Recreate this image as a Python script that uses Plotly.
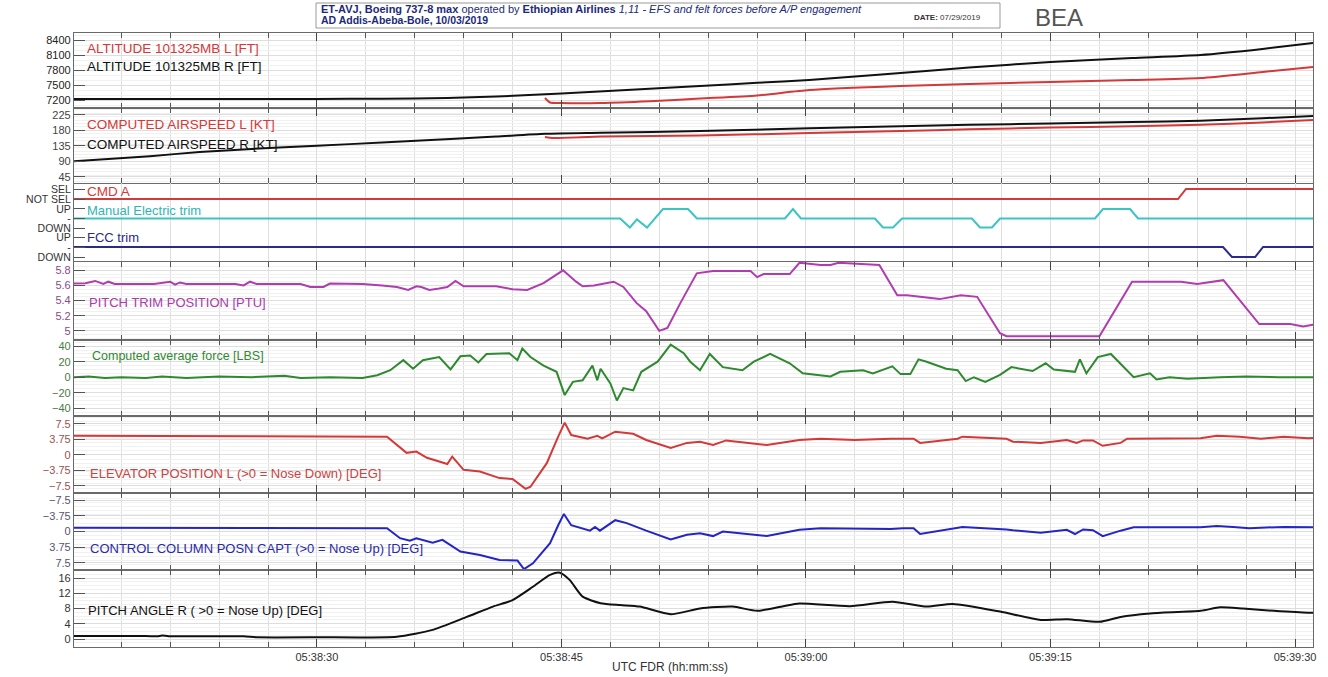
import pandas as pd
import plotly.graph_objects as go
from plotly.subplots import make_subplots

BASE = pd.Timestamp("2019-03-10 05:38:00")

# ---------------- data (seconds after 05:38:00, values) ----------------
alt_r_t = [15.1, 20, 25, 30, 34, 38, 41, 45, 49, 53.5, 57, 60.2, 63, 65.8, 70, 75, 80, 84.2, 88, 91.1]
alt_r_v = [7220, 7220, 7220, 7222, 7225, 7240, 7270, 7330, 7400, 7480, 7545, 7600, 7670, 7740, 7850, 7960, 8040, 8100, 8220, 8340]
alt_l_t = [43.99, 44.3, 45, 47.4, 50.4, 53.5, 57, 60.2, 65.8, 70, 75, 80, 84.2, 88, 91.1]
alt_l_v = [7240, 7150, 7140, 7140, 7175, 7230, 7290, 7400, 7480, 7520, 7560, 7600, 7640, 7760, 7860]

ias_r_t = [15.1, 19.75, 22.8, 26, 30, 34, 38.2, 41, 44, 47.4, 53.5, 60.2, 65.8, 70, 75, 80, 84.2, 88, 91.1]
ias_r_v = [90, 105, 117, 126, 135, 145, 155, 162, 170, 173, 178, 186, 192, 196, 200, 204, 208, 215, 222]
ias_l_t = [43.99, 44.5, 47.4, 53.5, 60.2, 65.8, 70, 75, 80, 84.2, 88, 91.1]
ias_l_v = [161, 158, 162, 165, 172, 178, 183, 188, 192, 196, 203, 210]

cmd_t = [15.1, 82.82, 83.31, 91.1]
cmd_v = [0, 0, 1, 1]

met_t = [15.1, 48.6, 49.2, 49.63, 50.25, 51.23, 52.76, 53.31, 58.71, 59.2, 59.69,
         64.23, 64.72, 65.34, 65.89, 70.18, 70.67, 71.41, 71.9, 77.73, 78.22, 79.88, 80.37, 91.1]
met_v = [0, 0, -0.95, -0.1, -0.95, 1, 1, 0, 0, 1, 0,
         0, -0.95, -0.95, 0, 0, -0.95, -0.95, 0, 0, 1, 1, 0, 0]

fcc_t = [15.1, 85.58, 86.13, 87.55, 88.04, 91.1]
fcc_v = [0, 0, -1, -1, 0, 0]

trim_t = [15.1, 15.8, 16.4, 16.9, 17.2, 17.6, 20.0, 21.0, 21.3, 21.6, 22.0, 25.0, 25.5, 25.9, 26.3,
          29.0, 29.6, 30.4, 30.8, 32.8, 34.0, 34.9, 35.6, 36.1, 36.4, 36.9, 37.5, 38.0, 38.5, 39.0,
          41.0, 42.0, 42.9, 43.9, 45.1, 45.9, 46.3, 47.0, 48.2, 48.8, 49.6, 50.2, 51.0, 51.5, 52.3,
          53.3, 54.3, 56.6, 57.0, 57.4, 59.0, 59.6, 60.9, 61.5, 62.0, 64.5, 65.6, 66.2, 67.0, 68.2,
          69.5, 70.5, 71.9, 72.3, 75.0, 78.0, 80.0, 83.0, 84.0, 85.6, 87.8, 89.7, 90.5, 91.1]
trim_v = [5.625, 5.63, 5.66, 5.62, 5.65, 5.62, 5.62, 5.65, 5.61, 5.64, 5.62, 5.62, 5.60, 5.65, 5.62,
          5.62, 5.58, 5.58, 5.625, 5.62, 5.60, 5.58, 5.54, 5.59, 5.58, 5.54, 5.56, 5.58, 5.66, 5.59,
          5.59, 5.55, 5.54, 5.63, 5.80, 5.65, 5.59, 5.60, 5.65, 5.58, 5.37, 5.26, 5.00, 5.04, 5.37,
          5.76, 5.79, 5.79, 5.71, 5.75, 5.75, 5.90, 5.87, 5.87, 5.90, 5.87, 5.47, 5.47, 5.45, 5.42,
          5.47, 5.45, 4.97, 4.93, 4.93, 4.93, 5.65, 5.65, 5.62, 5.67, 5.09, 5.09, 5.06, 5.08]

force_t = [15.1, 16, 17, 18, 19.5, 20.5, 22, 24, 26, 28, 29, 30.8, 32.8, 33.7, 34.5, 35.3, 35.9, 36.5,
           37.5, 38.2, 38.8, 39.4, 39.9, 40.4, 41.8, 42.3, 42.6, 43.1, 43.9, 44.7, 45.2, 45.7, 46.3,
           46.9, 47.2, 47.4, 48.0, 48.4, 48.8, 49.4, 49.9, 50.9, 51.7, 52.5, 52.9, 53.5, 54.1, 54.9,
           56.1, 56.8, 57.8, 59.0, 59.8, 61.5, 62.1, 63.5, 64.1, 65.3, 65.8, 66.4, 66.9, 67.4, 68.6,
           69.3, 69.8, 70.3, 71.0, 71.9, 72.6, 73.9, 74.7, 75.2, 76.5, 76.8, 77.2, 77.9, 78.7, 79.4,
           80.1, 81.1, 81.5, 82.3, 83.4, 85.4, 87, 89, 91.1]
force_v = [0, 1, -1, 0, -1, 1, -1, 1, 0, 2, -1, 0, -1, 2.6, 9, 22, 11, 22,
           26, 10, 27, 28, 19, 30, 31, 22, 37, 26, 15, 7, -23, -6, -4,
           15, -4, 11, -8, -30, -14, -17, 7, 20, 42, 31, 20, 9, 30, 13,
           9, 20, 30, 18, 5, 1, 7, 9, 5, 14, 4, 4, 23, 20, 11,
           9, -5, 0, -6, 3, 13, 8, 18, 10, 7, 23, 5, 26, 30, 15,
           0, 5, -3, 0, -2, 0, 1, 0, 0]

elev_t = [15.1, 20, 25, 30, 34.3, 35.5, 36.1, 36.75, 38.0, 38.3, 39.0, 40.0, 41.2, 42.0, 42.8, 43.1,
          44.1, 44.8, 45.2, 45.6, 46.6, 47.2, 47.5, 48.3, 49.4, 50.2, 51.7, 52.7, 53.5, 54.3, 55.1,
          57.6, 59.6, 60.9, 63.0, 65.2, 66.6, 67.0, 69.3, 69.6, 72.3, 72.7, 74.4, 76.0, 76.6, 77.0,
          77.6, 78.2, 79.3, 79.7, 84.2, 85.2, 86.6, 87.9, 89.3, 90.8, 91.1]
elev_v = [4.6, 4.55, 4.6, 4.5, 4.4, 0.5, 0.8, -0.7, -2.2, -0.4, -3.6, -4.0, -5.6, -5.8, -8.2, -7.7,
          -2.0, 4.4, 7.8, 4.8, 3.9, 4.6, 4.0, 5.6, 5.1, 3.6, 1.7, 2.9, 3.2, 2.4, 3.5,
          2.4, 3.6, 3.9, 3.6, 3.9, 3.9, 2.9, 3.9, 4.4, 3.9, 3.2, 2.9, 3.6, 2.9, 3.5,
          3.5, 2.2, 2.9, 3.9, 4.0, 4.6, 4.4, 3.9, 4.4, 4.0, 4.1]

col_t = [15.1, 20, 25, 30, 34.3, 35.1, 35.7, 36.1, 37.1, 37.7, 38.8, 40.0, 41.2, 42.3, 42.7, 43.25,
         44.3, 44.8, 45.15, 45.6, 46.75, 47.06, 47.36, 48.3, 49.0, 50.2, 51.7, 52.7, 53.5, 54.3, 54.9,
         57.6, 59.6, 60.9, 65.2, 65.95, 66.6, 67.0, 69.3, 69.6, 72.3, 72.7, 74.4, 76.0, 76.5, 77.0,
         77.6, 78.2, 79.3, 80.1, 84.2, 85.2, 86.2, 87.2, 89.3, 90.8, 91.1]
col_v = [-0.9, -0.9, -0.95, -0.9, -0.8, 1.6, 2.2, 1.6, 2.7, 2.0, 4.8, 5.6, 6.8, 6.9, 9.0, 7.6,
         2.8, -1.5, -4.2, -1.5, -0.2, -1.1, -0.2, -2.7, -2.0, -0.2, 1.9, 0.8, 0.4, 1.1, 0.0,
         1.1, -0.4, -0.8, -0.6, -0.8, -0.8, 0.6, -1.0, -1.1, -0.5, -0.3, 0.3, -0.4, 0.6, -0.5,
         -0.3, 1.1, -0.2, -1.0, -1.0, -1.3, -1.1, -0.8, -1.1, -1.1, -1.0]

pitch_t = [15.1, 19.5, 20.2, 20.5, 20.9, 25.5, 26.3, 30, 34.9, 37.1, 39.2, 40.8, 42.0, 43.25, 44.3,
           44.9, 45.5, 46.3, 47.4, 48.6, 49.8, 51.7, 53.5, 55.5, 57.0, 58.6, 59.6, 62.7, 65.3, 67.4,
           69.0, 71.9, 74.4, 76.0, 78.0, 79.3, 81.1, 84.2, 85.4, 86.8, 88.7, 90.8, 91.1]
pitch_v = [0.8, 0.8, 0.7, 0.9, 0.75, 0.7, 0.45, 0.45, 0.6, 2.4, 5.8, 8.5, 10.2, 13.7, 16.8,
           17.4, 15.5, 11.1, 9.4, 8.9, 8.5, 6.5, 8.0, 8.5, 7.4, 8.6, 9.3, 8.6, 9.8, 8.5,
           9.2, 7.2, 5.0, 5.2, 4.5, 5.8, 6.7, 7.4, 8.3, 8.0, 7.4, 6.9, 6.9]

panel_labels = [
    "ALTITUDE 101325MB L [FT]", "ALTITUDE 101325MB R [FT]",
    "COMPUTED AIRSPEED L [KT]", "COMPUTED AIRSPEED R [KT]",
    "CMD A", "Manual Electric trim", "FCC trim",
    "PITCH TRIM POSITION [PTU]", "Computed average force [LBS]",
    "ELEVATOR POSITION L (>0 = Nose Down) [DEG]",
    "CONTROL COLUMN POSN CAPT (>0 = Nose Up) [DEG]",
    "PITCH ANGLE R ( >0 = Nose Up) [DEG]",
]

# ---------------- styling ----------------
RED = "#d43838"
BLACK = "#111111"
TEAL = "#3cc4c4"
NAVY = "#2a2a8a"
MAGENTA = "#b03cb0"
GREEN = "#2e8a2e"
BLUE = "#2424c8"
FONT = "Liberation Sans, Arial, sans-serif"

heights = [75, 75, 20, 29, 30, 78, 76, 77, 77, 77]
fig = make_subplots(rows=10, cols=1, shared_xaxes=True, vertical_spacing=0,
                    row_heights=heights)


def T(sec):
    return [BASE + pd.Timedelta(seconds=s) for s in sec]


def add(t, v, row, color, width=2.0, shape="linear"):
    fig.add_trace(go.Scatter(x=T(t), y=v, mode="lines",
                             line=dict(color=color, width=width, shape=shape, smoothing=0.6),
                             showlegend=False, hoverinfo="skip"), row=row, col=1)


add(alt_r_t, alt_r_v, 1, BLACK, shape="spline")
add(alt_l_t, alt_l_v, 1, RED, shape="spline")
add(ias_r_t, ias_r_v, 2, BLACK, shape="spline")
add(ias_l_t, ias_l_v, 2, RED, shape="spline")
add(cmd_t, cmd_v, 3, RED)
add(met_t, met_v, 4, TEAL)
add(fcc_t, fcc_v, 5, NAVY)
add(trim_t, trim_v, 6, MAGENTA)
add(force_t, force_v, 7, GREEN)
add(elev_t, elev_v, 8, RED)
add(col_t, col_v, 9, BLUE)
add(pitch_t, pitch_v, 10, BLACK, shape="spline")

xr = [BASE + pd.Timedelta(seconds=15.1), BASE + pd.Timedelta(seconds=91.1)]
GRID = "#dedede"
MINORGRID = "#f1f1f1"
AXLINE = "#6a6a6a"

for r in range(1, 11):
    framed = r not in (3, 4, 5)
    fig.update_xaxes(
        row=r, col=1, type="date", range=xr, tickformat="%H:%M:%S",
        tick0=BASE, dtick=15000,
        ticks="inside" if framed else "", ticklen=8, tickcolor="#444", tickwidth=1,
        showgrid=True, gridcolor=GRID, gridwidth=1,
        minor=dict(dtick=3000, ticks="inside" if framed else "", ticklen=5,
                   tickcolor="#555", showgrid=True, gridcolor=GRID),
        showline=framed, linecolor=AXLINE, linewidth=1.2,
        mirror="ticks" if framed else False,
        showticklabels=(r == 10),
        tickfont=dict(family=FONT, size=11, color="#333"),
        zeroline=False,
    )

yspec = {
    1: dict(range=[7040, 8540], tickvals=[7200, 7500, 7800, 8100, 8400], color="#222"),
    2: dict(range=[27, 245], tickvals=[45, 90, 135, 180, 225], color="#444"),
    3: dict(range=[-0.4, 1.6], tickvals=[0, 1], ticktext=["NOT SEL", "SEL"], color="#333"),
    4: dict(range=[-1.42, 1.63], tickvals=[-1, 0, 1], ticktext=["DOWN", "-", "UP"], color="#333"),
    5: dict(range=[-1.5, 1.5], tickvals=[-1, 0, 1], ticktext=["DOWN", "-", "UP"], color="#333"),
    6: dict(range=[4.88, 5.91], tickvals=[5, 5.2, 5.4, 5.6, 5.8], color="#8a4a8a"),
    7: dict(range=[-50, 48], tickvals=[-40, -20, 0, 20, 40], color="#4a7a4a"),
    8: dict(range=[-9.2, 9.4], tickvals=[-7.5, -3.75, 0, 3.75, 7.5], color="#a05050"),
    9: dict(range=[9.2, -9.2], tickvals=[-7.5, -3.75, 0, 3.75, 7.5], color="#555570"),
    10: dict(range=[-2.1, 18.1], tickvals=[0, 4, 8, 12, 16], color="#333"),
}
for r, s in yspec.items():
    kw = dict(range=s["range"], tickmode="array", tickvals=s["tickvals"])
    if "ticktext" in s:
        kw["ticktext"] = s["ticktext"]
    small = r in (3, 4, 5)
    fig.update_yaxes(
        row=r, col=1, **kw,
        ticks="inside", ticklen=11, tickcolor="#555", tickwidth=1,
        showgrid=not small, gridcolor=GRID,
        minor=dict(showgrid=not small, gridcolor=MINORGRID, ticks=""),
        showline=True, linecolor=AXLINE, linewidth=1.2, mirror=True,
        zeroline=False,
        tickfont=dict(family=FONT, size=10.5 if small else 11, color=s["color"]),
    )

# ---------------- panel labels ----------------
L, R_, TOP, BOT = 74, 1313, 33, 647


def px(xp):
    return (xp - L) / (R_ - L)


def py(yp):
    return (BOT - yp) / (BOT - TOP)


label_pos = [
    (85, 48, RED, 13.5), (85, 66, BLACK, 13.5),
    (85, 125, RED, 13.5), (85, 144, BLACK, 13.5),
    (85, 191, RED, 13.5), (85, 210, "#30b4b4", 13), (85, 237, NAVY, 13),
    (87, 302, "#a83ca8", 13), (90, 356, "#2e8a2e", 12.5),
    (88, 473, "#d04040", 13), (88, 548, "#2a2aa8", 13), (86, 610, BLACK, 13),
]
for text, (xp, yp, c, fs) in zip(panel_labels, label_pos):
    fig.add_annotation(x=px(xp), y=py(yp), xref="paper", yref="paper", text=text,
                       showarrow=False, xanchor="left", yanchor="middle",
                       font=dict(family=FONT, size=fs, color=c))

# x axis title
fig.add_annotation(x=px(670), y=py(667), xref="paper", yref="paper",
                   text="UTC FDR (hh:mm:ss)", showarrow=False,
                   xanchor="center", yanchor="middle",
                   font=dict(family=FONT, size=12, color="#333"))

# header box
fig.add_shape(type="rect", xref="paper", yref="paper",
              x0=px(316), x1=px(1000), y0=py(28), y1=py(3),
              line=dict(color="#999", width=1), fillcolor="white")
HNAVY = "#1c2a7a"
fig.add_annotation(x=px(319), y=py(9), xref="paper", yref="paper", showarrow=False,
                   xanchor="left", yanchor="middle",
                   text="<b>ET-AVJ, Boeing 737-8 max</b> operated by <b>Ethiopian Airlines</b>"
                        "<i> 1,11 - EFS and felt forces before A/P engagement</i>",
                   font=dict(family=FONT, size=11, color=HNAVY))
fig.add_annotation(x=px(319), y=py(20), xref="paper", yref="paper", showarrow=False,
                   xanchor="left", yanchor="middle",
                   text="<b>AD Addis-Abeba-Bole, 10/03/2019</b>",
                   font=dict(family=FONT, size=10.5, color=HNAVY))
fig.add_annotation(x=px(912), y=py(18), xref="paper", yref="paper", showarrow=False,
                   xanchor="left", yanchor="middle",
                   text="<b>DATE:</b> 07/29/2019",
                   font=dict(family=FONT, size=8, color="#333"))
fig.add_annotation(x=px(1033), y=py(18), xref="paper", yref="paper", showarrow=False,
                   xanchor="left", yanchor="middle", text="BEA",
                   font=dict(family=FONT, size=24, color="#555"))

fig.update_layout(
    width=1328, height=677, autosize=False,
    margin=dict(l=L, r=1328 - R_, t=TOP, b=677 - BOT, pad=0),
    plot_bgcolor="white", paper_bgcolor="white",
    font=dict(family=FONT),
)

fig.write_html("out.html", config={"displayModeBar": False},
               post_script="document.body.style.margin='0px';document.body.style.overflow='hidden';")
